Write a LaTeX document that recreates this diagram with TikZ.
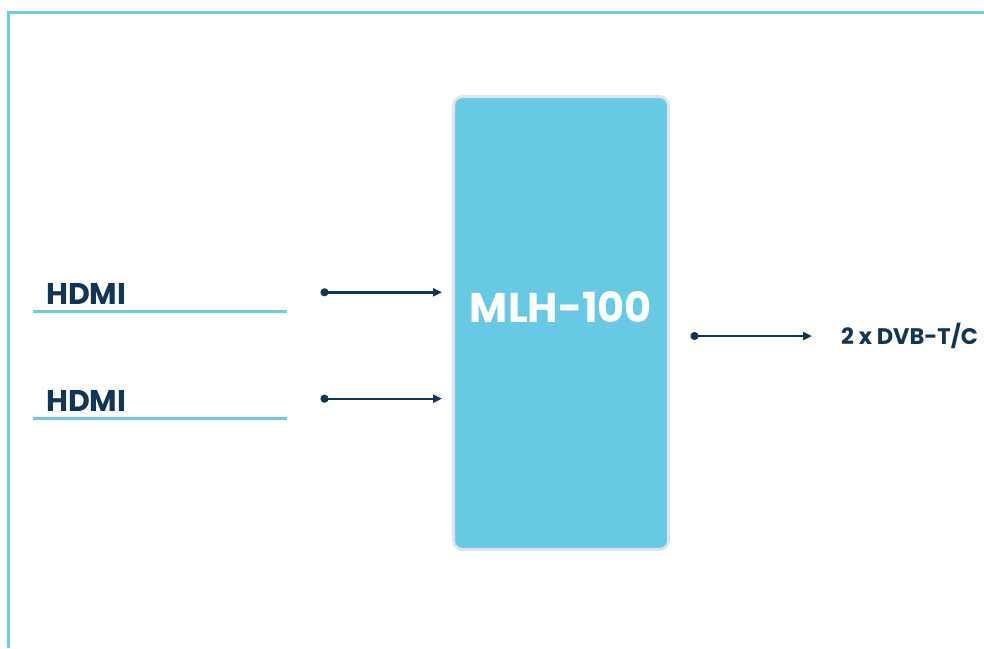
\documentclass[tikz,border=0pt]{standalone}
\usepackage{fontspec}
\setmainfont{Poppins}
\usetikzlibrary{arrows.meta}
\definecolor{frameblue}{HTML}{6BCBE6}
\definecolor{boxblue}{HTML}{68C9E4}
\definecolor{boxedge}{HTML}{DCE5EE}
\definecolor{navy}{HTML}{0F3557}
\tikzset{
  link/.style={draw=navy, line width=2.4pt, {Circle[length=8pt]}-{Triangle[length=9pt,width=8pt]}},
  inlabel/.style={font=\fontsize{30}{33}\selectfont\bfseries, text=navy, anchor=base west, inner sep=0pt},
  uline/.style={draw=frameblue, line width=3pt},
  mainbox/.style={draw=boxedge, line width=3pt, fill=boxblue, rounded corners=9pt, minimum width=215pt, minimum height=453pt, inner sep=0pt}
}
\begin{document}
\begin{tikzpicture}[x=1pt,y=-1pt]
\useasboundingbox (0,0) rectangle (984,648);
% frame
\draw[frameblue, line width=3pt] (8,648) -- (8,12) -- (984,12);
% main box
\node[mainbox] (mlh) at (561,323) {};
\node[font=\fontsize{41.5}{46}\selectfont\bfseries, text=white, inner sep=0pt] (mlhlabel) at (561,307) {MLH-100};
% inputs
\node[inlabel] (hdmi1) at (46,304) {HDMI};
\node[inlabel] (hdmi2) at (46,411) {HDMI};
\coordinate (u1a) at (33,311.7); \coordinate (u1b) at (287,311.7);
\coordinate (u2a) at (33,418.3); \coordinate (u2b) at (287,418.3);
\draw[uline] (u1a) -- (u1b);
\draw[uline] (u2a) -- (u2b);
\coordinate (s1) at (320.5,292.3);
\coordinate (s2) at (320.5,398.7);
\draw[link, shorten >=10pt] (s1) -- (s1 -| mlh.west);
\draw[link, shorten >=10pt] (s2) -- (s2 -| mlh.west);
% output
\node[font=\fontsize{22.5}{25}\selectfont\bfseries, text=navy, anchor=base west, inner sep=0pt] (out) at (841,344.3) {2 x DVB-T/C};
\coordinate (o1) at (690.5,336);
\draw[link, shorten >=29pt] (o1) -- (o1 -| out.west);
\end{tikzpicture}
\end{document}
